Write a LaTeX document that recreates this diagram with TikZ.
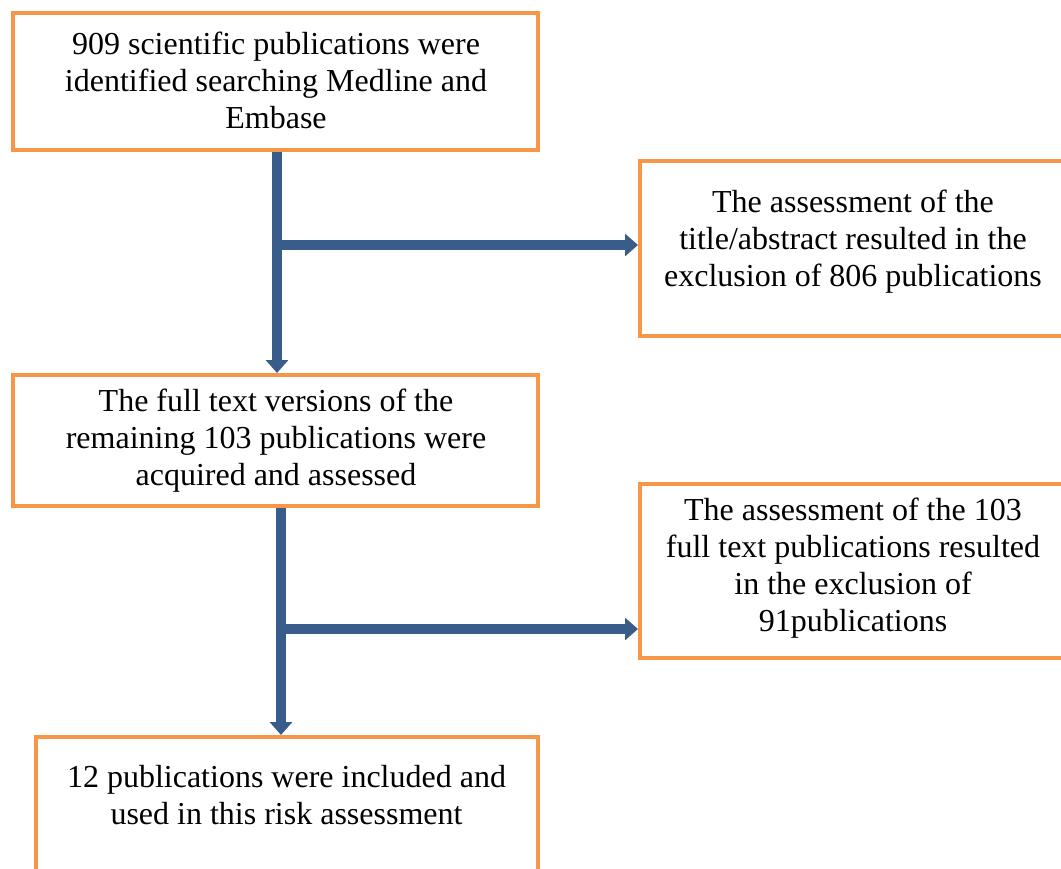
\documentclass[tikz,border=0pt]{standalone}
\usepackage{fontspec}
\setmainfont{Liberation Serif}
\usetikzlibrary{arrows.meta}
\definecolor{boxorange}{HTML}{F79646}
\definecolor{arrowblue}{HTML}{385D8A}
\tikzset{
  box/.style={draw=boxorange, line width=4pt, rectangle, inner sep=0pt},
  txt/.style={align=center, inner sep=0pt, font=\fontsize{32}{37}\selectfont},
  flow/.style={draw=arrowblue, line width=10pt, -{Triangle[width=22pt,length=13pt]}}
}
\begin{document}
\begin{tikzpicture}[x=1pt,y=-1pt]
\useasboundingbox (0,0) rectangle (1061,869);
\clip (0,0) rectangle (1061,869);
% boxes
\node[box, minimum width=525pt, minimum height=137pt] (b1) at (275.5,81.5) {};
\node[box, minimum width=426pt, minimum height=175pt] (b2) at (853,248.5) {};
\node[box, minimum width=525pt, minimum height=131pt] (b3) at (275.5,440.5) {};
\node[box, minimum width=426pt, minimum height=174pt] (b4) at (853,571) {};
\node[box, minimum width=502pt, minimum height=150pt] (b5) at (287,812) {};
% texts
\node[txt] (t1) at (276,80) {909 scientific publications were\\identified searching Medline and\\Embase};
\node[txt] (t2) at (853,242) {The assessment of the\\title/abstract resulted in the\\exclusion of 806 publications};
\node[txt] (t3) at (276,441) {The full text versions of the\\remaining 103 publications were\\acquired and assessed};
\node[txt] (t4) at (853,568) {The assessment of the 103\\full text publications resulted\\in the exclusion of\\91publications};
\node[txt] (t5) at (286.5,795) {12 publications were included and\\used in this risk assessment};
% connectors
\coordinate (v1) at (277,245);
\coordinate (v2) at (281,629);
\draw[flow] (v1 |- b1.south) -- (v1 |- b3.north);
\draw[flow] (v1) -- (v1 -| b2.west);
\draw[flow] (v2 |- b3.south) -- (v2 |- b5.north);
\draw[flow] (v2) -- (v2 -| b4.west);
\end{tikzpicture}
\end{document}
